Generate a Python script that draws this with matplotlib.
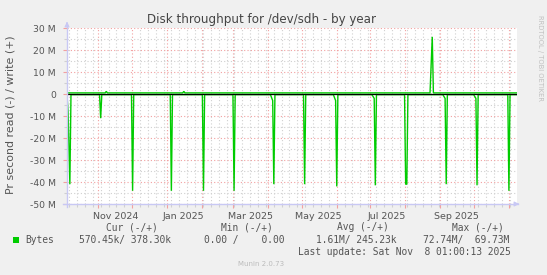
import matplotlib
matplotlib.use("Agg")
import matplotlib.pyplot as plt
import matplotlib.dates as mdates
from matplotlib.patches import Rectangle
from datetime import datetime, timedelta

# ---------------- data (values in M bytes / second) ----------------
read_times = ["2024-10-04 01:00", "2024-10-05 00:00", "2024-10-06 14:00", "2024-10-07 14:00",
              "2024-11-02 00:00", "2024-11-03 00:00", "2024-11-04 00:00",
              "2024-11-30 10:00", "2024-12-01 10:00", "2024-12-02 10:00",
              "2025-01-03 22:00", "2025-01-04 22:00", "2025-01-05 22:00",
              "2025-02-01 12:00", "2025-02-02 12:00", "2025-02-03 12:00",
              "2025-02-28 17:00", "2025-03-01 17:00", "2025-03-02 17:00",
              "2025-04-03 02:00", "2025-04-05 02:00", "2025-04-06 02:00", "2025-04-07 02:00",
              "2025-05-02 12:00", "2025-05-03 12:00", "2025-05-04 12:00",
              "2025-05-29 02:00", "2025-05-31 02:00", "2025-06-01 02:00", "2025-06-02 02:00",
              "2025-07-02 10:00", "2025-07-04 10:00", "2025-07-05 10:00", "2025-07-06 10:00",
              "2025-07-31 10:00", "2025-08-01 10:00", "2025-08-02 10:00", "2025-08-03 10:00",
              "2025-09-03 12:00", "2025-09-05 12:00", "2025-09-06 12:00", "2025-09-07 12:00",
              "2025-09-30 22:00", "2025-10-02 22:00", "2025-10-03 22:00", "2025-10-04 22:00",
              "2025-10-31 07:00", "2025-11-01 07:00", "2025-11-02 07:00", "2025-11-08 01:00"]
read_values = [-0.5, -8.0, -41.0, -0.3,
               -0.3, -11.0, -0.3,
               -0.3, -44.0, -0.3,
               -0.3, -44.0, -0.3,
               -0.3, -44.0, -0.3,
               -0.3, -44.0, -0.3,
               -0.3, -3.0, -41.0, -0.3,
               -0.3, -41.0, -0.3,
               -0.3, -3.0, -42.0, -0.3,
               -0.3, -2.0, -41.5, -0.3,
               -0.3, -41.0, -41.0, -0.3,
               -0.3, -2.0, -41.0, -0.3,
               -0.3, -2.0, -41.5, -0.3,
               -0.3, -44.0, -0.3, -0.3]

write_times = ["2024-10-04 01:00", "2024-11-07 00:00", "2024-11-08 00:00", "2024-11-09 00:00",
               "2025-01-15 00:00", "2025-01-16 00:00", "2025-01-17 00:00",
               "2025-08-23 02:00", "2025-08-25 02:00", "2025-08-26 02:00", "2025-11-08 01:00"]
write_values = [0.5, 0.5, 1.2, 0.5,
                0.5, 1.2, 0.5,
                0.5, 26.0, 0.5, 0.5]

x_start = "2024-10-04 01:00"
x_end = "2025-11-08 01:00"
label_months = ["2024-11-01", "2025-01-01", "2025-03-01", "2025-05-01", "2025-07-01", "2025-09-01"]
label_texts = ["Nov 2024", "Jan 2025", "Mar 2025", "May 2025", "Jul 2025", "Sep 2025"]

y_ticks = [30, 20, 10, 0, -10, -20, -30, -40, -50]
y_tick_labels = ["30 M", "20 M", "10 M", "0", "-10 M", "-20 M", "-30 M", "-40 M", "-50 M"]

title = "Disk throughput for /dev/sdh - by year"
y_label = "Pr second read (-) / write (+)"
legend_name = "Bytes"
legend_headers = ["Cur (-/+)", "Min (-/+)", "Avg (-/+)", "Max (-/+)"]
legend_values = ["570.45k/ 378.30k", "0.00 /    0.00", "1.61M/ 245.23k", "72.74M/  69.73M"]
last_update = "Last update: Sat Nov  8 01:00:13 2025"
footer = "Munin 2.0.73"
watermark = "RRDTOOL / TOBI OETIKER"

# ---------------- drawing ----------------
def p(s):
    return datetime.strptime(s, "%Y-%m-%d %H:%M") if " " in s else datetime.strptime(s, "%Y-%m-%d")

W, H = 547, 275
fig = plt.figure(figsize=(W / 100, H / 100), dpi=100, facecolor="#f0f0f0")

L, R, T, B = 67, 516.5, 28, 204
ax = fig.add_axes([L / W, 1 - B / H, (R - L) / W, (B - T) / H])
ax.set_facecolor("white")

green = "#00cc00"
rt = [p(s) for s in read_times]
wt = [p(s) for s in write_times]
ax.plot(rt, read_values, color=green, lw=1.0, zorder=3, solid_joinstyle="miter")
ax.plot(wt, write_values, color=green, lw=1.0, zorder=3, solid_joinstyle="miter")
ax.axhline(0, color="black", lw=0.9, zorder=4)

x0, x1 = p(x_start), p(x_end)
ax.set_xlim(x0, x1)
ax.set_ylim(-50, 30)

major_c = "#f2a0a0"
minor_c = "#d0d0d0"
# grid
ax.xaxis.set_major_locator(mdates.MonthLocator(bymonthday=1))
ax.xaxis.set_minor_locator(mdates.WeekdayLocator(byweekday=mdates.SU))
ax.set_yticks(y_ticks)
ax.set_yticks([v + 5 for v in y_ticks[1:]], minor=True)
ax.set_yticklabels(y_tick_labels)
ax.set_xticklabels([])
ax.grid(which="major", color=major_c, lw=0.8, ls=(0, (1, 2)), zorder=1)
ax.grid(which="minor", color=minor_c, lw=0.8, ls=(0, (1, 2)), zorder=0)
ax.tick_params(axis="both", which="major", length=3, width=0.8, color=major_c,
               labelsize=6.7, labelcolor="#555555")
ax.tick_params(axis="y", which="major", pad=5)
ax.tick_params(axis="both", which="minor", length=2, width=0.8, color=minor_c)

for s in ax.spines.values():
    s.set_visible(False)

# x labels at mid-month
for m, txt in zip(label_months, label_texts):
    d = p(m) + timedelta(days=15)
    ax.text(d, -0.045, txt, transform=ax.get_xaxis_transform(), ha="center", va="top",
            fontsize=6.8, color="#555555")

# axis lines with arrows
axis_c = "#c8c8f4"
fig.add_artist(plt.Line2D([L / W, L / W], [1 - 207 / H, 1 - 24 / H], color=axis_c, lw=1.0))
fig.add_artist(plt.Line2D([63 / W, 518 / W], [1 - B / H, 1 - B / H], color=axis_c, lw=1.0))
ax.annotate("", xy=(L, H - 19), xytext=(L, H - 26), xycoords="figure pixels",
            arrowprops=dict(arrowstyle="-|>", color=axis_c, lw=0.8, mutation_scale=7))
ax.annotate("", xy=(522, H - B), xytext=(515, H - B), xycoords="figure pixels",
            arrowprops=dict(arrowstyle="-|>", color=axis_c, lw=0.8, mutation_scale=7))

# titles
fig.text(261.7 / W, 1 - 20 / H, title, ha="center", va="center", fontsize=8.6, color="#444444")
fig.text(10.5 / W, 1 - 115 / H, y_label, ha="center", va="center", rotation=90,
         fontsize=7.9, color="#555555")
fig.text(540 / W, 1 - 15 / H, watermark, ha="center", va="top", rotation=270,
         fontsize=4.9, color="#c0c0c0")

# legend
mono = "DejaVu Sans Mono"
fs = 6.9
tc = "#555555"
for x, txt in zip([106, 221.3, 336.7, 452], legend_headers):
    fig.text(x / W, 1 - 227.3 / H, txt, ha="left", va="center", fontsize=fs, family=mono, color=tc)
fig.patches.append(Rectangle((13.3 / W, 1 - 242.7 / H), 5.4 / W, 5.7 / H,
                             transform=fig.transFigure, facecolor=green, edgecolor="none"))
fig.text(25 / W, 1 - 240 / H, legend_name, ha="left", va="center", fontsize=fs, family=mono, color=tc)
for x, txt in zip([79.3, 203.7, 315.7, 422.7], legend_values):
    fig.text(x / W, 1 - 240 / H, txt, ha="left", va="center", fontsize=fs, family=mono, color=tc)
fig.text(297.7 / W, 1 - 252 / H, last_update, ha="left", va="center", fontsize=fs, family=mono, color=tc)
fig.text(260.7 / W, 1 - 264 / H, footer, ha="center", va="center", fontsize=5.0, color="#bbbbbb")

fig.savefig("out.png", dpi=100, facecolor=fig.get_facecolor())
